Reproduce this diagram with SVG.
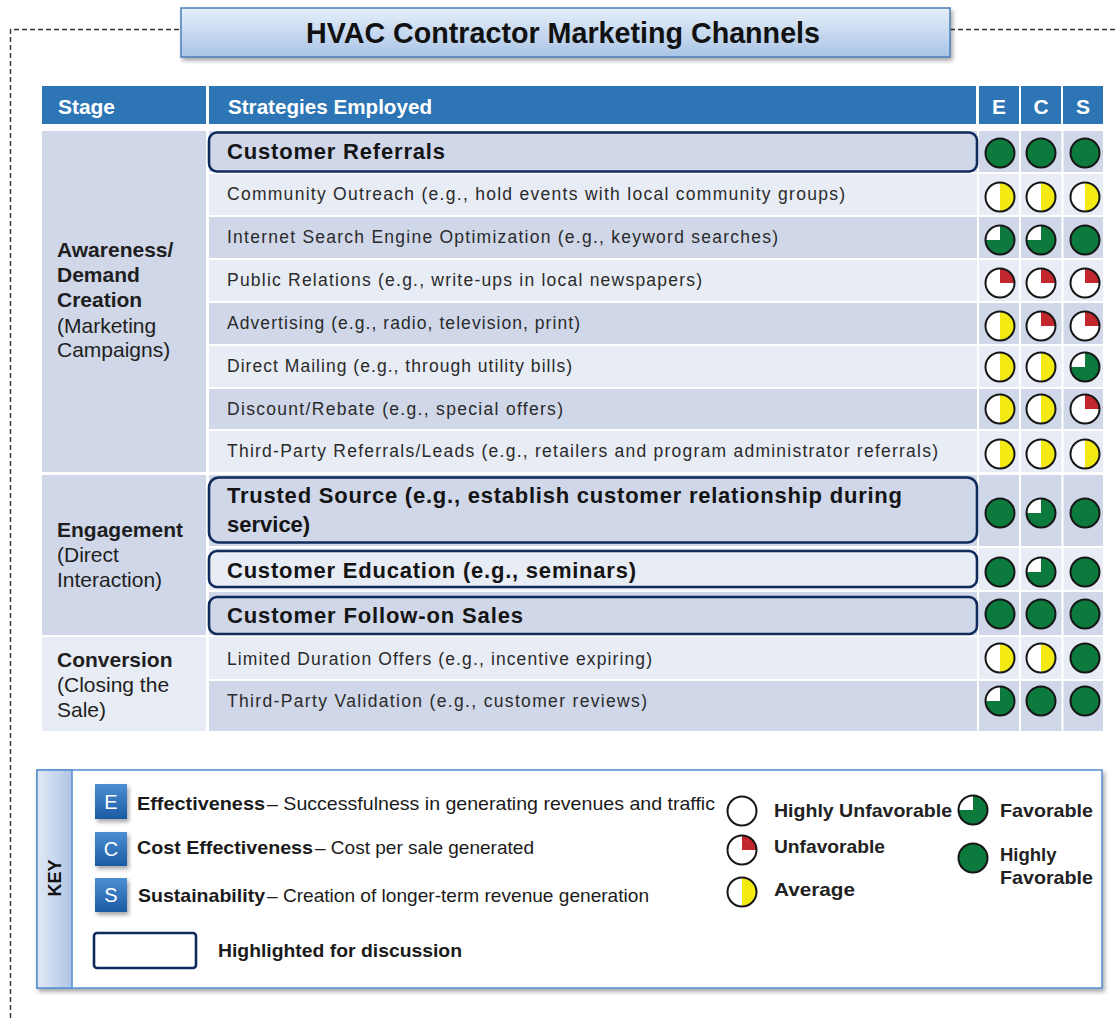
<svg xmlns="http://www.w3.org/2000/svg" xmlns:xlink="http://www.w3.org/1999/xlink" width="1118" height="1018" viewBox="0 0 1118 1018">
<style>
.nar{font-family:"Liberation Sans Narrow","Arial Narrow","Liberation Sans",Arial,sans-serif}
.sans{font-family:"Liberation Sans",Arial,sans-serif}
.hdr{font-weight:bold;font-size:21px;fill:#ffffff}
.stg{font-size:21px;fill:#1e1e1e}
.b{font-weight:bold}
.st{font-size:17.5px;fill:#2a2a2a}
.hl{font-weight:bold;font-size:22px;fill:#141414}
.hbox{fill:none;stroke:#0f2b5b;stroke-width:2.6}
.dk{fill:#cfd7e9}
.lt{fill:#e8ecf5}
.hblue{fill:#2e75b6}
.key{font-size:18.5px;fill:#1a1a1a}
.leg{font-weight:bold;font-size:18.5px;fill:#222222}
.ring{fill:none;stroke:#161616;stroke-width:2}
.badge{font-size:20px;fill:#ffffff;text-anchor:middle}
</style>
<defs>
<linearGradient id="titleGrad" x1="0" y1="0" x2="0" y2="1">
<stop offset="0" stop-color="#e6eff9"/>
<stop offset="1" stop-color="#a9c4e6"/>
</linearGradient>
<linearGradient id="stripGrad" x1="0" y1="0" x2="1" y2="0">
<stop offset="0" stop-color="#e2e9f5"/>
<stop offset="1" stop-color="#afc5e4"/>
</linearGradient>
<linearGradient id="badgeGrad" x1="0" y1="0" x2="0" y2="1">
<stop offset="0" stop-color="#4c8ed3"/>
<stop offset="1" stop-color="#1c5ba3"/>
</linearGradient>
<filter id="shadow" x="-10%" y="-20%" width="125%" height="160%">
<feDropShadow dx="2" dy="3" stdDeviation="2" flood-color="#000000" flood-opacity="0.35"/>
</filter>
<g id="hf"><circle r="14.5" fill="#0b7a3c"/><circle r="14.5" class="ring"/></g>
<g id="fav"><circle r="14.5" fill="#0b7a3c"/><path d="M0,0 H-14.5 A14.5,14.5 0 0 1 0,-14.5 Z" fill="#ffffff"/><circle r="14.5" class="ring"/></g>
<g id="unf"><circle r="14.5" fill="#ffffff"/><path d="M0,0 V-14.5 A14.5,14.5 0 0 1 14.5,0 Z" fill="#c1272d"/><circle r="14.5" class="ring"/></g>
<g id="avg"><circle r="14.5" fill="#ffffff"/><path d="M0,-14.5 A14.5,14.5 0 0 1 0,14.5 Z" fill="#f2ea12"/><circle r="14.5" class="ring"/></g>
<g id="hu"><circle r="14.5" fill="#ffffff"/><circle r="14.5" class="ring"/></g>
</defs>

<rect width="1118" height="1018" fill="#ffffff"/>

<g id="frame" fill="none" stroke="#333333" stroke-width="1.4" stroke-dasharray="5,3">
<path d="M10.5,1018 V29.5 H181"/>
<path d="M950,29.5 H1118"/>
</g>

<g id="title">
<rect x="181" y="8" width="769" height="49" fill="url(#titleGrad)" stroke="#4a7ebb" stroke-width="1.5" filter="url(#shadow)"/>
<text x="306" y="43" class="nar b" font-size="30" fill="#111" textLength="514" lengthAdjust="spacingAndGlyphs">HVAC Contractor Marketing Channels</text>
</g>

<g id="header">
<rect x="42" y="86" width="164" height="38" class="hblue"/>
<rect x="209" y="86" width="767" height="38" class="hblue"/>
<rect x="979" y="86" width="40" height="38" class="hblue"/>
<rect x="1021" y="86" width="40" height="38" class="hblue"/>
<rect x="1063" y="86" width="40" height="38" class="hblue"/>
<text x="58" y="114" class="nar hdr" textLength="57" lengthAdjust="spacingAndGlyphs">Stage</text>
<text x="228" y="114" class="nar hdr" textLength="204" lengthAdjust="spacingAndGlyphs">Strategies Employed</text>
<text x="999" y="114" class="nar hdr" text-anchor="middle">E</text>
<text x="1041" y="114" class="nar hdr" text-anchor="middle">C</text>
<text x="1083" y="114" class="nar hdr" text-anchor="middle">S</text>
</g>

<g id="row-backgrounds">
<rect x="42" y="131" width="164" height="341" class="dk"/>
<rect x="42" y="475" width="164" height="160" class="dk"/>
<rect x="42" y="637" width="164" height="94" class="lt"/>
<rect x="209" y="131" width="894" height="41" class="dk"/>
<rect x="209" y="174" width="894" height="41" class="lt"/>
<rect x="209" y="217" width="894" height="41" class="dk"/>
<rect x="209" y="260" width="894" height="41" class="lt"/>
<rect x="209" y="303" width="894" height="41" class="dk"/>
<rect x="209" y="346" width="894" height="41" class="lt"/>
<rect x="209" y="389" width="894" height="40" class="dk"/>
<rect x="209" y="431" width="894" height="41" class="lt"/>
<rect x="209" y="475" width="894" height="71" class="dk"/>
<rect x="209" y="548" width="894" height="42" class="lt"/>
<rect x="209" y="592" width="894" height="43" class="dk"/>
<rect x="209" y="637" width="894" height="42" class="lt"/>
<rect x="209" y="681" width="894" height="50" class="dk"/>
<g fill="#ffffff">
<rect x="977" y="131" width="2" height="600"/>
<rect x="1019" y="131" width="2" height="600"/>
<rect x="1061.5" y="131" width="2" height="600"/>
</g>
</g>

<g id="stage-awareness">
<text class="sans stg b" x="57" y="257">Awareness/</text>
<text class="sans stg b" x="57" y="282">Demand</text>
<text class="sans stg b" x="57" y="307">Creation</text>
<text class="sans stg" x="57" y="333">(Marketing</text>
<text class="sans stg" x="57" y="357">Campaigns)</text>
</g>
<g id="stage-engagement">
<text class="sans stg b" x="57" y="537">Engagement</text>
<text class="sans stg" x="57" y="562">(Direct</text>
<text class="sans stg" x="57" y="587">Interaction)</text>
</g>
<g id="stage-conversion">
<text class="sans stg b" x="57" y="667">Conversion</text>
<text class="sans stg" x="57" y="692">(Closing the</text>
<text class="sans stg" x="57" y="717">Sale)</text>
</g>

<g id="s-customer-referrals">
<rect x="209" y="132.5" width="768" height="39" rx="8" class="hbox"/>
<text class="sans hl" x="227" y="159" textLength="218" lengthAdjust="spacing">Customer Referrals</text>
<use href="#hf" x="1000" y="153"/><use href="#hf" x="1041" y="153"/><use href="#hf" x="1085" y="153"/>
</g>
<g id="s-community-outreach">
<text class="sans st" x="227" y="200" textLength="618" lengthAdjust="spacing">Community Outreach (e.g., hold events with local community groups)</text>
<use href="#avg" x="1000" y="197"/><use href="#avg" x="1041" y="197"/><use href="#avg" x="1085" y="197"/>
</g>
<g id="s-seo">
<text class="sans st" x="227" y="243" textLength="551" lengthAdjust="spacing">Internet Search Engine Optimization (e.g., keyword searches)</text>
<use href="#fav" x="1000" y="240"/><use href="#fav" x="1041" y="240"/><use href="#hf" x="1085" y="240"/>
</g>
<g id="s-public-relations">
<text class="sans st" x="227" y="286" textLength="475" lengthAdjust="spacing">Public Relations (e.g., write-ups in local newspapers)</text>
<use href="#unf" x="1000" y="283"/><use href="#unf" x="1041" y="283"/><use href="#unf" x="1085" y="283"/>
</g>
<g id="s-advertising">
<text class="sans st" x="227" y="329" textLength="353" lengthAdjust="spacing">Advertising (e.g., radio, television, print)</text>
<use href="#avg" x="1000" y="326"/><use href="#unf" x="1041" y="326"/><use href="#unf" x="1085" y="326"/>
</g>
<g id="s-direct-mailing">
<text class="sans st" x="227" y="372" textLength="345" lengthAdjust="spacing">Direct Mailing (e.g., through utility bills)</text>
<use href="#avg" x="1000" y="367"/><use href="#avg" x="1041" y="367"/><use href="#fav" x="1085" y="367"/>
</g>
<g id="s-discount-rebate">
<text class="sans st" x="227" y="415" textLength="336" lengthAdjust="spacing">Discount/Rebate (e.g., special offers)</text>
<use href="#avg" x="1000" y="409"/><use href="#avg" x="1041" y="409"/><use href="#unf" x="1085" y="409"/>
</g>
<g id="s-third-party-referrals">
<text class="sans st" x="227" y="457" textLength="711" lengthAdjust="spacing">Third-Party Referrals/Leads (e.g., retailers and program administrator referrals)</text>
<use href="#avg" x="1000" y="454"/><use href="#avg" x="1041" y="454"/><use href="#avg" x="1085" y="454"/>
</g>
<g id="s-trusted-source">
<rect x="209" y="477.5" width="768" height="65" rx="10" class="hbox"/>
<text class="sans hl" x="227" y="503" textLength="675" lengthAdjust="spacing">Trusted Source (e.g., establish customer relationship during</text>
<text class="sans hl" x="227" y="532">service)</text>
<use href="#hf" x="1000" y="513"/><use href="#fav" x="1041" y="513"/><use href="#hf" x="1085" y="513"/>
</g>
<g id="s-customer-education">
<rect x="209" y="551" width="768" height="36" rx="8" class="hbox"/>
<text class="sans hl" x="227" y="578" textLength="409" lengthAdjust="spacing">Customer Education (e.g., seminars)</text>
<use href="#hf" x="1000" y="572"/><use href="#fav" x="1041" y="572"/><use href="#hf" x="1085" y="572"/>
</g>
<g id="s-follow-on-sales">
<rect x="209" y="597" width="768" height="37" rx="8" class="hbox"/>
<text class="sans hl" x="227" y="623" textLength="296" lengthAdjust="spacing">Customer Follow-on Sales</text>
<use href="#hf" x="1000" y="614"/><use href="#hf" x="1041" y="614"/><use href="#hf" x="1085" y="614"/>
</g>
<g id="s-limited-duration">
<text class="sans st" x="227" y="665" textLength="425" lengthAdjust="spacing">Limited Duration Offers (e.g., incentive expiring)</text>
<use href="#avg" x="1000" y="658"/><use href="#avg" x="1041" y="658"/><use href="#hf" x="1085" y="658"/>
</g>
<g id="s-third-party-validation">
<text class="sans st" x="227" y="707" textLength="420" lengthAdjust="spacing">Third-Party Validation (e.g., customer reviews)</text>
<use href="#fav" x="1000" y="701"/><use href="#hf" x="1041" y="701"/><use href="#hf" x="1085" y="701"/>
</g>

<g id="key">
<rect x="37" y="770" width="1065" height="218" fill="#ffffff" stroke="#5b93d3" stroke-width="1.6" filter="url(#shadow)"/>
<rect x="37" y="770" width="35" height="218" fill="url(#stripGrad)" stroke="#5b93d3" stroke-width="1.6"/>
<text x="0" y="0" transform="translate(61,878) rotate(-90)" class="nar b" font-size="18" fill="#111" text-anchor="middle">KEY</text>

<rect x="95" y="784" width="32" height="35" fill="url(#badgeGrad)" filter="url(#shadow)"/>
<text x="111" y="809" class="nar badge">E</text>
<rect x="95" y="832" width="32" height="34" fill="url(#badgeGrad)" filter="url(#shadow)"/>
<text x="111" y="856" class="nar badge">C</text>
<rect x="95" y="878" width="32" height="34" fill="url(#badgeGrad)" filter="url(#shadow)"/>
<text x="111" y="902" class="nar badge">S</text>

<text x="137" y="810" class="nar key b" textLength="128" lengthAdjust="spacingAndGlyphs">Effectiveness</text>
<text x="267" y="810" class="nar key" textLength="448" lengthAdjust="spacingAndGlyphs">– Successfulness in generating revenues and traffic</text>
<text x="137" y="854" class="nar key b" textLength="176" lengthAdjust="spacingAndGlyphs">Cost Effectiveness</text>
<text x="315" y="854" class="nar key" textLength="219" lengthAdjust="spacingAndGlyphs">– Cost per sale generated</text>
<text x="138" y="902" class="nar key b" textLength="127" lengthAdjust="spacingAndGlyphs">Sustainability</text>
<text x="267" y="902" class="nar key" textLength="382" lengthAdjust="spacingAndGlyphs">– Creation of longer-term revenue generation</text>

<rect x="94" y="933" width="102" height="35" rx="3" fill="#ffffff" stroke="#0f2b5b" stroke-width="2.6"/>
<text x="218" y="957" class="nar key b" textLength="244" lengthAdjust="spacingAndGlyphs">Highlighted for discussion</text>

<use href="#hu" x="742" y="811"/>
<text x="774" y="817" class="sans leg" textLength="178" lengthAdjust="spacingAndGlyphs">Highly Unfavorable</text>
<use href="#unf" x="742" y="850"/>
<text x="774" y="853" class="sans leg" textLength="111" lengthAdjust="spacingAndGlyphs">Unfavorable</text>
<use href="#avg" x="742" y="892"/>
<text x="774" y="896" class="sans leg" textLength="81" lengthAdjust="spacingAndGlyphs">Average</text>
<use href="#fav" x="973" y="810"/>
<text x="1000" y="817" class="sans leg" textLength="93" lengthAdjust="spacingAndGlyphs">Favorable</text>
<use href="#hf" x="973" y="858"/>
<text x="1000" y="861" class="sans leg">Highly</text>
<text x="1000" y="884" class="sans leg" textLength="93" lengthAdjust="spacingAndGlyphs">Favorable</text>
</g>

<g id="connectors"/>
</svg>
